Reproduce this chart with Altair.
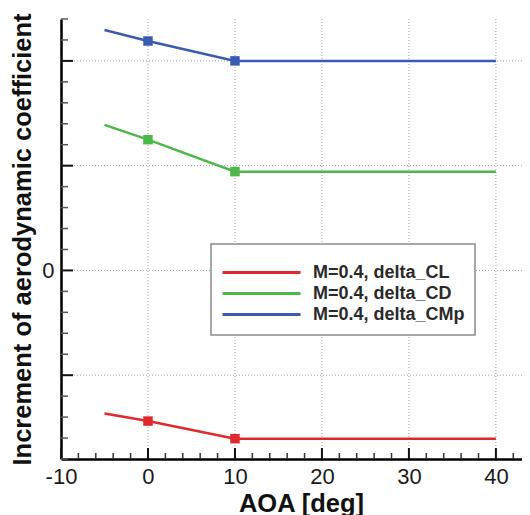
import altair as alt
import pandas as pd

# ---- data ----
aoa = [-5, 0, 10, 40]
delta_cl = [-1.365, -1.438, -1.606, -1.606]
delta_cd = [1.39, 1.248, 0.943, 0.943]
delta_cmp = [2.295, 2.19, 2.0, 2.0]
marker_aoa = [0, 10]

series_names = ["M=0.4, delta_CL", "M=0.4, delta_CD", "M=0.4, delta_CMp"]
series_colors = ["#e0282d", "#4db848", "#3a5cb0"]

x_tick_labels = [-10, 0, 10, 20, 30, 40]
x_grid = [0, 10, 20, 30, 40]
x_minor = [v for v in range(-8, 43, 2) if v % 10 != 0]
y_grid = [-1, 0, 1, 2]
y_label_values = [0]
y_minor = [round(-1.8 + 0.2 * i, 1) for i in range(22)]
y_minor = [v for v in y_minor if abs(v - round(v)) > 1e-6]

FONT = "Liberation Sans"

rows = []
for name, vals in zip(series_names, [delta_cl, delta_cd, delta_cmp]):
    for a, v in zip(aoa, vals):
        rows.append({"x": a, "y": v, "series": name})
df = pd.DataFrame(rows)

x_scale = alt.Scale(domain=[-10, 43], nice=False, zero=False)
y_scale = alt.Scale(domain=[-1.8, 2.4], nice=False, zero=False)

x_axis = alt.Axis(values=x_tick_labels, title="AOA [deg]", labelPadding=7,
                  titlePadding=4, titleX=240, labelFlush=False,
                  labelExpr="'' + datum.value")
y_axis = alt.Axis(values=y_label_values, title="Increment of aerodynamic coefficient",
                  labelPadding=7, titlePadding=6, labelExpr="'' + datum.value")

color = alt.Color("series:N", scale=alt.Scale(domain=series_names, range=series_colors),
                  title=" ")

vgrid = alt.Chart(pd.DataFrame({"x": x_grid})).mark_rule(
    color="#a0a0a0", strokeDash=[1, 2], strokeWidth=1
).encode(x=alt.X("x:Q", scale=x_scale, axis=x_axis))

hgrid = alt.Chart(pd.DataFrame({"y": y_grid})).mark_rule(
    color="#a0a0a0", strokeDash=[1, 2], strokeWidth=1
).encode(y=alt.Y("y:Q", scale=y_scale, axis=y_axis))

lines = alt.Chart(df).mark_line(strokeWidth=2.5).encode(
    x=alt.X("x:Q", scale=x_scale),
    y=alt.Y("y:Q", scale=y_scale),
    color=color,
)

squares = alt.Chart(df).transform_filter(
    alt.FieldOneOfPredicate(field="x", oneOf=marker_aoa)
).mark_square(size=90, opacity=1, filled=True).encode(
    x=alt.X("x:Q", scale=x_scale),
    y=alt.Y("y:Q", scale=y_scale),
    color=color,
)

x_major_ticks = alt.Chart(pd.DataFrame({"x": x_tick_labels})).mark_rule(
    color="#111111", strokeWidth=2
).encode(x=alt.X("x:Q", scale=x_scale), y=alt.value(440), y2=alt.value(429))

x_minor_ticks = alt.Chart(pd.DataFrame({"x": x_minor})).mark_rule(
    color="#333333", strokeWidth=1.5
).encode(x=alt.X("x:Q", scale=x_scale), y=alt.value(440), y2=alt.value(434))

y_major_ticks = alt.Chart(pd.DataFrame({"y": y_grid})).mark_rule(
    color="#111111", strokeWidth=2
).encode(y=alt.Y("y:Q", scale=y_scale), x=alt.value(0), x2=alt.value(12))

y_minor_ticks = alt.Chart(pd.DataFrame({"y": y_minor})).mark_rule(
    color="#555555", strokeWidth=1.5
).encode(y=alt.Y("y:Q", scale=y_scale), x=alt.value(0), x2=alt.value(7))

chart = alt.layer(
    vgrid, hgrid, x_minor_ticks, x_major_ticks, y_minor_ticks, y_major_ticks,
    lines, squares
).properties(
    width=461, height=440,
    padding={"left": 53, "top": 11, "right": 0, "bottom": 56},
    autosize=alt.AutoSizeParams(type="none"),
    background="white",
).configure_view(stroke=None).configure_axis(
    domainColor="#000000", domainWidth=2.5, ticks=False, grid=False,
    labelFont=FONT, labelFontSize=22, labelColor="#1a1a1a",
    titleFont=FONT, titleFontSize=25.5, titleFontWeight="bold", titleColor="#111111",
).configure_legend(
    orient="none", legendX=150, legendY=225,
    padding=10, strokeColor="#8a8a8a", fillColor="white", strokeWidth=1.5,
    titleFontSize=4, titlePadding=4,
    symbolType="stroke", symbolSize=6084, symbolStrokeWidth=3,
    labelFont=FONT, labelFontSize=18, labelFontWeight="bold", labelColor="#2a2a2a",
    labelOffset=11, rowPadding=0, clipHeight=21, labelLimit=400,
)

chart.save("out.html", embed_options={"renderer": "svg", "actions": False})
